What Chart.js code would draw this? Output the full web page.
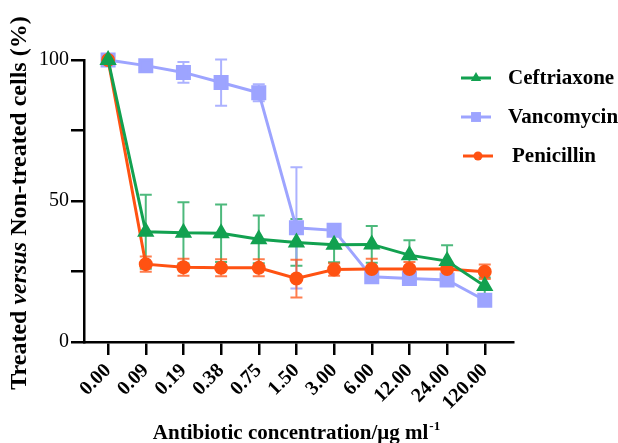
<!DOCTYPE html>
<html>
<head>
<meta charset="utf-8">
<script src="https://cdn.jsdelivr.net/npm/chart.js@4"></script>
<style>
  html, body { margin: 0; padding: 0; background: #fff; }
  #wrap { width: 618px; height: 443px; position: relative; }
</style>
</head>
<body>
<div id="wrap"><canvas id="c" width="618" height="443"></canvas></div>
<script>
const labels = ['0.00','0.09','0.19','0.38','0.75','1.50','3.00','6.00','12.00','24.00','120.00'];
const ceftriaxone    = [100, 39.1, 38.7, 38.6, 36.4, 35.3, 34.5, 34.6, 30.8, 28.7, 19.9];
const ceftriaxoneErr = [0, 13.1, 10.9, 10.2, 8.5, 8.3, 6.2, 6.5, 5.3, 5.6, 3.0];
const vancomycin     = [100, 98.0, 95.6, 92.0, 88.4, 40.5, 39.6, 23.1, 22.5, 22.0, 14.8];
const vancomycinErr  = [0, 1.2, 3.7, 8.2, 3.0, 21.5, 1.0, 1.0, 1.0, 1.0, 1.0];
const penicillin     = [100, 27.6, 26.5, 26.3, 26.3, 22.5, 25.7, 25.9, 25.9, 25.9, 24.9];
const penicillinErr  = [0, 2.7, 3.0, 3.0, 3.0, 6.7, 2.2, 3.6, 2.5, 2.5, 2.6];
const yTickLabels = [0, 50, 100];

const GREEN = '#12A150', BLUE = '#9DA4FF', ORANGE = '#FF5212';
const SERIF = '"Liberation Serif", "Times New Roman", serif';

function pts(arr) { return arr.map((v, i) => ({ x: i, y: v })); }

const errorBars = {
  id: 'errorBars',
  beforeDatasetsDraw(chart) {
    const ctx = chart.ctx, ys = chart.scales.y, xs = chart.scales.x;
    chart.data.datasets.forEach((ds) => {
      ctx.save();
      ctx.strokeStyle = ds.errColor;
      ctx.lineWidth = 2;
      ds.data.forEach((p, i) => {
        const e = ds.errors[i];
        if (!e) return;
        const x = xs.getPixelForValue(p.x);
        const y1 = ys.getPixelForValue(p.y + e), y2 = ys.getPixelForValue(p.y - e);
        ctx.beginPath();
        ctx.moveTo(x, y1); ctx.lineTo(x, y2);
        ctx.moveTo(x - 6, y1); ctx.lineTo(x + 6, y1);
        ctx.moveTo(x - 6, y2); ctx.lineTo(x + 6, y2);
        ctx.stroke();
      });
      ctx.restore();
    });
  }
};

const texts = {
  id: 'texts',
  afterDraw(chart) {
    const ctx = chart.ctx;
    ctx.save();
    ctx.fillStyle = '#000';
    // Y title (mixed italic)
    const segs = [
      ['Treated ', 'bold 24px ' + SERIF],
      ['versus', 'italic bold 24px ' + SERIF],
      [' Non-treated cells (%)', 'bold 24px ' + SERIF]
    ];
    let total = 0;
    segs.forEach(s => { ctx.font = s[1]; total += ctx.measureText(s[0]).width; });
    ctx.translate(20, 203);
    ctx.rotate(-Math.PI / 2);
    ctx.textBaseline = 'middle';
    ctx.textAlign = 'left';
    let x = -total / 2;
    segs.forEach(s => { ctx.font = s[1]; ctx.fillText(s[0], x, 0); x += ctx.measureText(s[0]).width; });
    ctx.restore();

    // X title with superscript
    ctx.save();
    ctx.fillStyle = '#000';
    ctx.textBaseline = 'alphabetic';
    const main = 'Antibiotic concentration/\u03bcg ml', sup = '-1';
    ctx.font = 'bold 21px ' + SERIF;
    const wm = ctx.measureText(main).width;
    ctx.font = 'bold 13px ' + SERIF;
    const ws = ctx.measureText(sup).width;
    let sx = 296 - (wm + ws) / 2;
    ctx.font = 'bold 21px ' + SERIF;
    ctx.fillText(main, sx, 439);
    ctx.font = 'bold 13px ' + SERIF;
    ctx.fillText(sup, sx + wm + 1, 430);
    ctx.restore();

    // Legend
    ctx.save();
    const legend = [
      { ds: chart.data.datasets[0], y: 78, x0: 461, tx: 508 },
      { ds: chart.data.datasets[1], y: 117, x0: 461, tx: 508 },
      { ds: chart.data.datasets[2], y: 156, x0: 463, tx: 512 }
    ];
    legend.forEach(l => {
      ctx.strokeStyle = l.ds.borderColor;
      ctx.lineWidth = 3;
      ctx.beginPath(); ctx.moveTo(l.x0, l.y); ctx.lineTo(l.x0 + 30, l.y); ctx.stroke();
      ctx.fillStyle = l.ds.borderColor;
      Chart.helpers.drawPoint(ctx, {
        pointStyle: l.ds.pointStyle, radius: l.ds.legendRadius, rotation: 0, borderWidth: 0
      }, l.x0 + 15, l.y);
      ctx.fillStyle = '#000';
      ctx.font = 'bold 21px ' + SERIF;
      ctx.textBaseline = 'middle';
      ctx.textAlign = 'left';
      ctx.fillText(l.ds.label, l.tx, l.y + 1);
    });
    ctx.restore();
  }
};

new Chart(document.getElementById('c'), {
  type: 'line',
  data: {
    datasets: [
      { label: 'Ceftriaxone', data: pts(ceftriaxone), errors: ceftriaxoneErr,
        borderColor: GREEN, backgroundColor: GREEN, errColor: 'rgba(18,161,80,0.75)',
        pointStyle: 'triangle', pointRadius: 7, legendRadius: 6, borderWidth: 3, order: 0, clip: false },
      { label: 'Vancomycin', data: pts(vancomycin), errors: vancomycinErr,
        borderColor: BLUE, backgroundColor: BLUE, errColor: 'rgba(157,164,255,0.85)',
        pointStyle: 'rect', pointRadius: 8.5, legendRadius: 7, borderWidth: 3, order: 2, clip: false },
      { label: 'Penicillin', data: pts(penicillin), errors: penicillinErr,
        borderColor: ORANGE, backgroundColor: ORANGE, errColor: 'rgba(255,82,18,0.75)',
        pointStyle: 'circle', pointRadius: 5.5, legendRadius: 4.5, borderWidth: 3, order: 1, clip: false }
    ]
  },
  options: {
    responsive: false,
    animation: false,
    devicePixelRatio: 1,
    layout: { padding: { top: 60, right: 105, left: 0, bottom: 0 } },
    plugins: { legend: { display: false }, tooltip: { enabled: false } },
    elements: { line: { tension: 0 }, point: { borderWidth: 0, hoverRadius: 0 } },
    scales: {
      x: {
        type: 'linear',
        min: -0.64, max: 10.75,
        afterBuildTicks(scale) { scale.ticks = labels.map((_, i) => ({ value: i })); },
        afterFit(scale) { scale.height = 101; },
        grid: { display: true, drawOnChartArea: false, drawTicks: true, tickLength: 13, color: '#000', lineWidth: 2.5 },
        border: { display: true, color: '#000', width: 2.5 },
        ticks: {
          autoSkip: false, maxRotation: 45, minRotation: 45, padding: 4,
          color: '#000', font: { family: SERIF, size: 20, weight: 'bold' },
          callback: (v) => labels[v] !== undefined ? labels[v] : ''
        }
      },
      y: {
        min: 0, max: 100,
        afterFit(scale) { scale.width = 84; },
        grid: { display: true, drawOnChartArea: false, drawTicks: true, tickLength: 13, color: '#000', lineWidth: 2.5 },
        border: { display: true, color: '#000', width: 2.5 },
        ticks: {
          stepSize: 25, padding: 2, color: '#000',
          font: { family: SERIF, size: 20 },
          callback: (v) => yTickLabels.includes(v) ? String(v) : ''
        }
      }
    }
  },
  plugins: [errorBars, texts]
});
</script>
</body>
</html>
